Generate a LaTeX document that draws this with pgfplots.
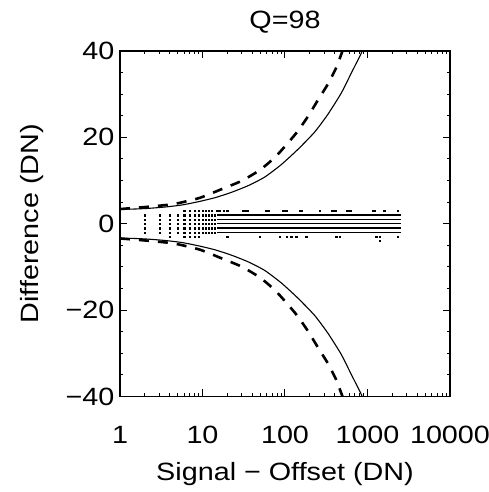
\documentclass[border=0pt]{standalone}
\usepackage{fontspec}
\setmainfont[FakeStretch=1.15]{Liberation Sans}
\usepackage{pgfplots}
\pgfplotsset{compat=1.18}
\begin{document}
\begin{tikzpicture}
\begin{axis}[
  scale only axis, width=330pt, height=345.5pt,
  xmode=log, xmin=1, xmax=10000, ymin=-40, ymax=40,
  xtick={1,10,100,1000,10000}, xticklabels={1,10,100,1000,10000},
  ytick={-40,-20,0,20,40}, yticklabels={−40,−20,0,20,40},
  minor ytick={-35,-30,-25,-15,-10,-5,5,10,15,25,30,35},
  tick align=inside, major tick length=7pt, minor tick length=3.5pt,
  axis line style={line width=1.2pt},
  every tick/.style={black, line width=1pt},
  tick label style={font=\fontsize{25}{28}\selectfont},
  xticklabel style={yshift=-26pt},
  yticklabel style={xshift=-2pt},
  every axis title/.style={at={(axis description cs:0.5,1.0825)}, anchor=center, font=\fontsize{25}{28}\selectfont},
  every axis x label/.style={at={(axis description cs:0.5,-0.224)}, anchor=center, font=\fontsize{25}{28}\selectfont},
  every axis y label/.style={at={(axis description cs:-0.2667,0.5)}, rotate=90, anchor=center, font=\fontsize{25}{28}\selectfont},
  title={Q=98},
  xlabel={Signal − Offset (DN)},
  ylabel={Difference (DN)},
  clip=true,
]
\coordinate (ll) at (rel axis cs:0,0);
\coordinate (ur) at (rel axis cs:1,1);
% scattered differences: columns at small signal
\addplot[only marks, mark=square*, mark size=0.65pt, black] coordinates {
(2,-2) (2,-1) (2,0) (2,1) (2,2)
(3,-2) (3,-1) (3,0) (3,1) (3,2)
(4,-3) (4,-2) (4,-1) (4,0) (4,1) (4,2)
(5,-2) (5,-1) (5,0) (5,1) (5,2)
(6,-3) (6,-2) (6,-1) (6,0) (6,1) (6,2) (6,3)
(7,-3) (7,-2) (7,-1) (7,0) (7,1) (7,2) (7,3)
(8,-3) (8,-2) (8,-1) (8,0) (8,1) (8,2) (8,3)
(9,-3) (9,-2) (9,-1) (9,0) (9,1) (9,2) (9,3)
(10,-2) (10,-1) (10,0) (10,1) (10,2) (10,3)
(11,-2) (11,-1) (11,0) (11,1) (11,2) (11,3)
(12,-2) (12,-1) (12,0) (12,1) (12,2) (12,3)
(13,-2) (13,-1) (13,0) (13,1) (13,2) (13,3)
(14,-2) (14,-1) (14,0) (14,1) (14,2)
};
% sparse outliers at larger signal
\addplot[only marks, mark=square*, mark size=0.65pt, black] coordinates {
(15,3) (16,3) (18,3) (20,3) (31,3) (33,3) (35,3) (58,3) (61,3) (64,3)
(95,3) (99,3) (104,3) (150,3) (160,3) (262,3) (370,3) (390,3) (410,3)
(560,3) (589,3) (620,3) (1150,3) (1220,3) (1600,3) (2320,3)
(20,-3) (49,-3) (86,-3) (104,-3) (119,-3) (137,-3) (181,-3) (417,-3) (457,-3)
(1270,-3) (1393,-3) (1393,-4) (2320,-3)
};
% dense rows
\addplot[black, line width=1.3pt] coordinates {(15,2) (2560,2)};
\addplot[black, line width=1.3pt] coordinates {(15,1) (2560,1)};
\addplot[black, line width=1.3pt] coordinates {(15,0) (2560,0)};
\addplot[black, line width=1.3pt] coordinates {(15,-1) (2560,-1)};
\addplot[black, line width=1.3pt] coordinates {(15,-2) (2560,-2)};
% solid envelope
\addplot[black, line width=1.1pt, smooth, tension=0.35] coordinates {
(1,3.4) (1.45,3.4) (2.2,3.56) (3.5,3.87) (5.57,4.33) (8.85,5.09) (14.1,6.02)
(22.4,7.27) (35.6,8.8) (56.7,10.8) (90.2,13.7) (143,17.2) (228,21.2)
(330,25.3) (479,30.2) (633,34.8) (836,39.4) (900,41)
};
\addplot[black, line width=1.1pt, smooth, tension=0.35] coordinates {
(1,-3.4) (1.45,-3.4) (2.2,-3.56) (3.5,-3.87) (5.57,-4.33) (8.85,-5.09) (14.1,-6.02)
(22.4,-7.27) (35.6,-8.8) (56.7,-10.8) (90.2,-13.7) (143,-17.2) (228,-21.2)
(330,-25.3) (479,-30.2) (633,-34.8) (836,-39.4) (900,-41)
};
% dashed envelope
\addplot[black, line width=2.6pt, dash pattern=on 10pt off 9pt, smooth, tension=0.35] coordinates {
(1,3.4) (2.4,4.0) (4.6,4.6) (9.3,6.0) (17,8.0) (29.6,9.9) (49.3,12.4)
(74.8,15.3) (103,18.2) (141,21.3) (189,24.8) (250,28.6) (330,32.3)
(417,36.1) (493,39.8) (510,40.5)
};
\addplot[black, line width=2.6pt, dash pattern=on 10pt off 9pt, smooth, tension=0.35] coordinates {
(1,-3.4) (2.4,-4.0) (4.6,-4.6) (9.3,-6.0) (17,-8.0) (29.6,-9.9) (49.3,-12.4)
(74.8,-15.3) (103,-18.2) (141,-21.3) (189,-24.8) (250,-28.6) (330,-32.3)
(417,-36.1) (493,-39.8) (510,-40.5)
};
\end{axis}
\pgfresetboundingbox
\path ([shift={(-120pt,-95.5pt)}]ll) rectangle ([shift={(39pt,51pt)}]ur);
\end{tikzpicture}
\end{document}
